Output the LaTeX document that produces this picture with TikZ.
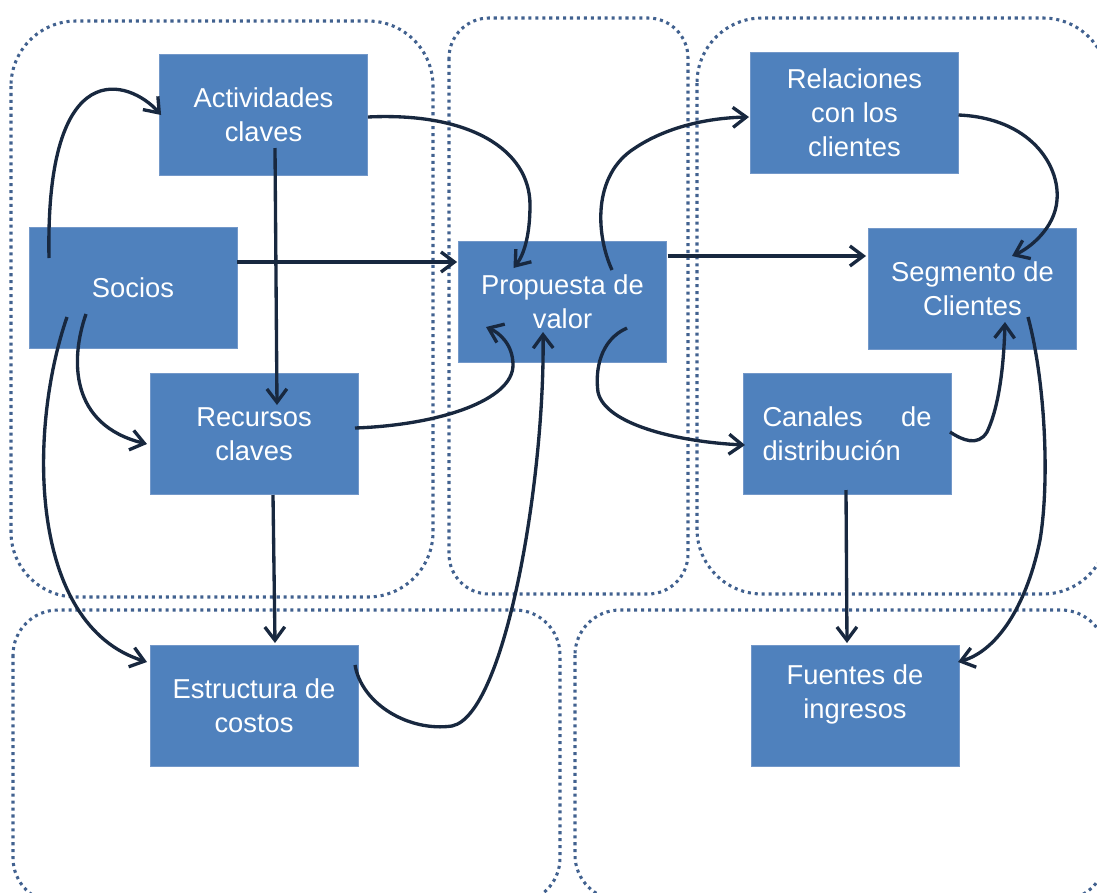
\documentclass[tikz,border=0pt]{standalone}
\usepackage{fontspec}
\setmainfont{Liberation Sans}
\usetikzlibrary{arrows.meta}
\definecolor{boxblue}{HTML}{4F81BD}
\definecolor{boxedge}{HTML}{7398C9}
\definecolor{framecol}{HTML}{41618F}
\definecolor{arrcol}{HTML}{18283F}
\begin{document}
\begin{tikzpicture}[x=0.75pt,y=-0.75pt,
  frame/.style={draw=framecol, line width=2.3pt, dash pattern=on 2.3pt off 2.9pt},
  box/.style={rectangle, fill=boxblue, draw=boxedge, line width=0.6pt, text=white,
    align=center, minimum width=156pt, minimum height=90.75pt, inner sep=0pt,
    font=\fontsize{20.5}{25.5}\selectfont},
  arr/.style={draw=arrcol, line width=2.5pt, -{Straight Barb[length=10pt,width=15pt]}}]
\useasboundingbox (0,0) rectangle (1097,893);
\clip (0,0) rectangle (1097,893);
% frames
\draw[frame, rounded corners=48.75pt] (11,21) rectangle (433,597);
\draw[frame, rounded corners=30pt] (449,18) rectangle (688,594);
\draw[frame, rounded corners=48.75pt] (697,18) rectangle (1108,594);
\draw[frame, rounded corners=33.75pt] (13,610) rectangle (560,903);
\draw[frame, rounded corners=33.75pt] (575,610) rectangle (1106,900);
% boxes
\node[box] (act) at (263.5,115) {Actividades\\claves};
\node[box] (soc) at (133,287.5) {Socios};
\node[box] (rec) at (254,434) {Recursos\\claves};
\node[box] (est) at (254,705.5) {Estructura de\\costos};
\node[box] (pro) at (562.5,301.5) {Propuesta de\\valor};
\node[box] (rel) at (854.5,112.5) {Relaciones\\con los\\clientes};
\node[box] (seg) at (972.5,289) {Segmento de\\Clientes};
\node[box, align=left] (can) at (847,434) {\makebox[126.75pt]{Canales\hfill de}\\distribución};
\node[box] (fue) at (855,705.5) {Fuentes de\\ingresos\\[-12pt]\strut};
% connectors
\draw[arr] ([shift={(-84,-29.5)}]soc.center) .. controls (45,50) and (130,80) .. ([shift={(2,0)}]act.west);
\draw[arr] ([shift={(0,-25.5)}]soc.east) -- ([shift={(-1,-39.5)}]pro.west);
\draw[arr] ([shift={(11.5,33)}]act.center) -- ([shift={(23,-29)}]rec.center);
\draw[arr] ([shift={(0,2)}]act.east) .. controls (470,112) and (530,150) .. (530,205)
  .. controls (530,235) and (524,255) .. ([shift={(-49,-33.5)}]pro.center);
\draw[arr] ([shift={(101,-6)}]rec.center) .. controls (440,425) and (513,400) .. (513,365)
  .. controls (513,345) and (500,333) .. ([shift={(-76.5,25.5)}]pro.center);
\draw[arr] ([shift={(101,-40.5)}]est.center) .. controls (362,705) and (410,732) .. (452,726)
  .. controls (505,715) and (545,480) .. ([shift={(-19.5,30.5)}]pro.center);
\draw[arr] ([shift={(-47,26.5)}]soc.center) .. controls (70,360) and (70,425) .. ([shift={(-107,10)}]rec.center);
\draw[arr] ([shift={(-66,29.5)}]soc.center) .. controls (28,430) and (28,625) .. ([shift={(-107,-43.5)}]est.center);
\draw[arr] ([shift={(19,61)}]rec.center) -- ([shift={(21,-62.5)}]est.center);
\draw[arr] ([shift={(49.5,-31.5)}]pro.center) .. controls (596,235) and (592,175) .. (635,148)
  .. controls (665,128) and (705,118) .. ([shift={(-105.5,4.5)}]rel.center);
\draw[arr] ([shift={(105,-45.5)}]pro.center) -- ([shift={(-106.5,-33)}]seg.center);
\draw[arr] ([shift={(104,2.5)}]rel.center) .. controls (1030,118) and (1060,165) .. (1057,200)
  .. controls (1055,228) and (1030,248) .. ([shift={(39.5,-33)}]seg.center);
\draw[arr] ([shift={(64.5,26.5)}]pro.center) .. controls (600,340) and (595,370) .. (598,392)
  .. controls (605,425) and (680,442) .. ([shift={(-102,11)}]can.center);
\draw[arr] ([shift={(103,-2)}]can.center) .. controls (962,440) and (978,447) .. (987,432)
  .. controls (1000,405) and (1004,360) .. ([shift={(32.5,33)}]seg.center);
\draw[arr] ([shift={(55.5,28)}]seg.center) .. controls (1045,380) and (1050,480) .. (1040,540)
  .. controls (1028,600) and (1000,650) .. ([shift={(103,-43.5)}]fue.center);
\draw[arr] ([shift={(-1,56)}]can.center) -- ([shift={(-8,-62.5)}]fue.center);
\end{tikzpicture}
\end{document}
